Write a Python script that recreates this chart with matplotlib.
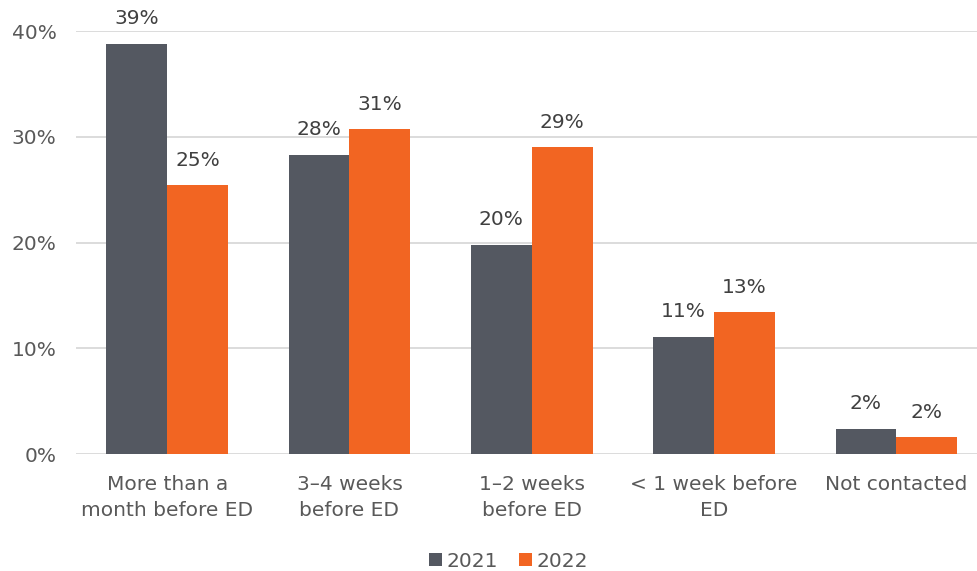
import matplotlib
matplotlib.use("Agg")
import matplotlib.pyplot as plt
import numpy as np
from matplotlib.ticker import FuncFormatter

categories = ["More than a\nmonth before ED", "3\u20134 weeks\nbefore ED",
              "1\u20132 weeks\nbefore ED", "< 1 week before\nED", "Not contacted"]
series_names = ["2021", "2022"]
values_2021 = [38.8, 28.3, 19.8, 11.1, 2.4]
values_2022 = [25.4, 30.7, 29.0, 13.4, 1.6]
y_ticks = [0, 10, 20, 30, 40]

colors = ["#545861", "#F26522"]
text_color = "#404040"
tick_color = "#595959"
fs = 14.5

plt.rcParams["font.family"] = ["DejaVu Sans"]

fig = plt.figure(figsize=(9.78, 5.71), dpi=100)
ax = fig.add_axes([0.0777, 0.2049, 0.932, 0.7408])

x = np.arange(len(categories))
w = 1 / 3
for i, (vals, name) in enumerate(zip([values_2021, values_2022], series_names)):
    pos = x + (i - 0.5) * w
    bars = ax.bar(pos, vals, width=w, color=colors[i], label=name, zorder=3)
    for b, v in zip(bars, vals):
        ax.annotate(f"{round(v):.0f}%", (b.get_x() + b.get_width() / 2, v),
                    xytext=(0, 11), textcoords="offset points",
                    ha="center", va="bottom", fontsize=fs, color=text_color)

ax.set_xlim(-0.5, len(categories) - 0.5)
ax.set_ylim(0, 40)
ax.set_yticks(y_ticks)
ax.yaxis.set_major_formatter(FuncFormatter(lambda v, p: f"{v:.0f}%"))
ax.grid(axis="y", color="#D9D9D9", linewidth=1.3, zorder=0)
for s in ax.spines.values():
    s.set_visible(False)
ax.tick_params(axis="y", length=0, pad=14, labelsize=fs, labelcolor=tick_color)
ax.set_xticks(x)
ax.set_xticklabels(categories, fontsize=fs, color=tick_color, linespacing=1.45)
ax.tick_params(axis="x", length=0, pad=15)

leg = fig.legend(loc="center", bbox_to_anchor=(0.52, 0.017), ncol=2, frameon=False,
                 fontsize=fs, handlelength=0.65, handleheight=0.65,
                 handletextpad=0.25, columnspacing=1.0)
for t in leg.get_texts():
    t.set_color(tick_color)

fig.savefig("out.png", dpi=100)
